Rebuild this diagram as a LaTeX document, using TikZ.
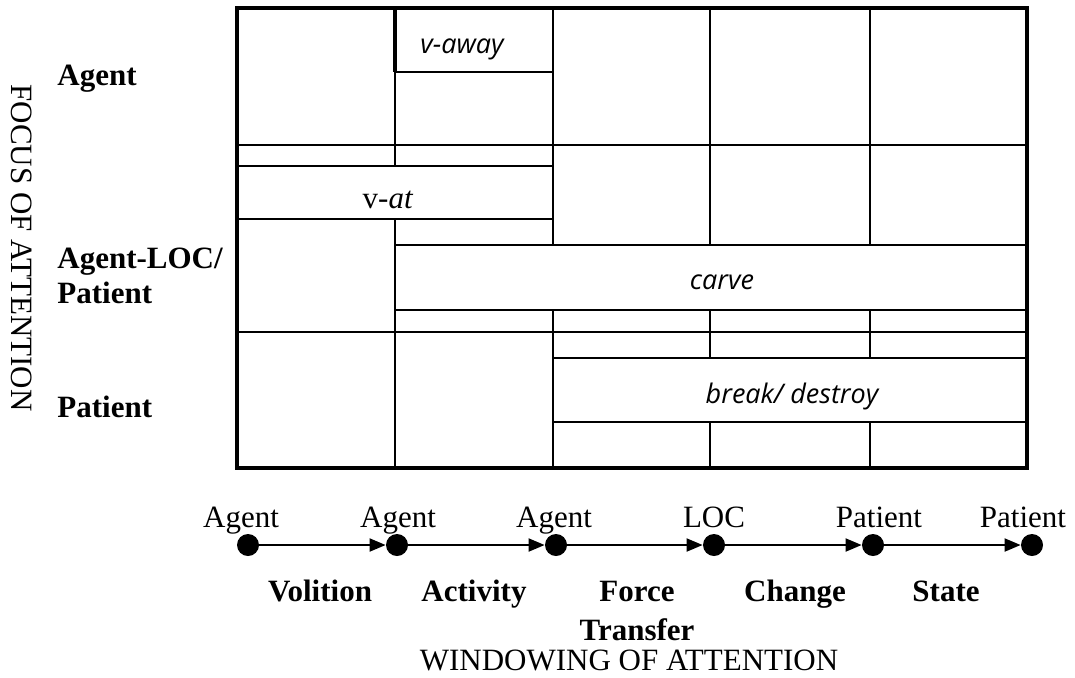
\documentclass[tikz,border=0pt]{standalone}
\usepackage{fontspec}
\setmainfont{Liberation Serif}
\newfontfamily\verbfont{Open Sans}
\usetikzlibrary{arrows.meta}

\begin{document}
\begin{tikzpicture}[x=0.5pt,y=-0.5pt,
  grid/.style={line width=1pt},
  frame/.style={line width=2pt},
  role/.style={font=\fontsize{15.5}{17.5}\selectfont,anchor=base},
  rowlab/.style={font=\fontsize{15.5}{17.5}\selectfont\bfseries,anchor=base west,align=left,inner sep=0pt},
  stage/.style={font=\fontsize{15.5}{19.5}\selectfont\bfseries,anchor=base,align=center},
  verb/.style={font=\fontsize{13.5}{16}\selectfont\verbfont\itshape,anchor=base},
  dot/.style={circle,fill=black,inner sep=0pt,minimum size=11pt},
  hop/.style={line width=1pt,-{Triangle[length=8pt,width=6.5pt]}}]
\useasboundingbox (0,0) rectangle (1075,677);

% cells of the grid
\draw[grid] (237,145) -- (1027,145);
\draw[grid] (237,332) -- (1027,332);
\draw[grid] (395,8) -- (395,166) (395,219) -- (395,468);
\foreach \x in {553,710,870} {
  \draw[grid] (\x,8) -- (\x,245) (\x,310) -- (\x,358) (\x,422) -- (\x,468);
}

% verb boxes
\draw[grid] (395,8) rectangle (553,72);
\draw[frame] (395,8) -- (395,72);
\draw[grid] (237,166) rectangle (553,219);
\draw[grid] (395,245) rectangle (1027,310);
\draw[grid] (553,358) rectangle (1027,422);
\draw[frame] (237,8) rectangle (1027,468);

\node[verb] (away) at (462,53) {v-away};
\node[role] (vat) at (388,208) {v-\textit{at}};
\node[verb] (carve) at (722,289) {carve};
\node[verb] (break) at (792,403) {break/ destroy};

% focus of attention (base of a two-line node = last line)
\node[font=\fontsize{15.5}{17.5}\selectfont,rotate=-90] (focus) at (22,248) {FOCUS OF ATTENTION};
\node[rowlab] (fagent) at (57,85) {Agent};
\node[rowlab] (floc) at (57,303) {Agent-LOC/\\Patient};
\node[rowlab] (fpatient) at (57,417) {Patient};

% windowing of attention
\node[dot] (w1) at (248,545) {};
\node[dot] (w2) at (397,545) {};
\node[dot] (w3) at (556,545) {};
\node[dot] (w4) at (714,545) {};
\node[dot] (w5) at (873,545) {};
\node[dot] (w6) at (1032,545) {};
\draw[hop] (w1) -- (w2);
\draw[hop] (w2) -- (w3);
\draw[hop] (w3) -- (w4);
\draw[hop] (w4) -- (w5);
\draw[hop] (w5) -- (w6);

\node[role] (n1) at (241,527) {Agent};
\node[role] (n2) at (398,527) {Agent};
\node[role] (n3) at (554,527) {Agent};
\node[role] (n4) at (714,527) {LOC};
\node[role] (n5) at (879,527) {Patient};
\node[role] (n6) at (1023,527) {Patient};

\node[stage] (volition) at (320,601) {Volition};
\node[stage] (activity) at (474,601) {Activity};
\node[stage] (force) at (637,640) {Force\\Transfer};
\node[stage] (change) at (795,601) {Change};
\node[stage] (state) at (946,601) {State};
\node[role] (window) at (629,670) {WINDOWING OF ATTENTION};
\end{tikzpicture}
\end{document}
